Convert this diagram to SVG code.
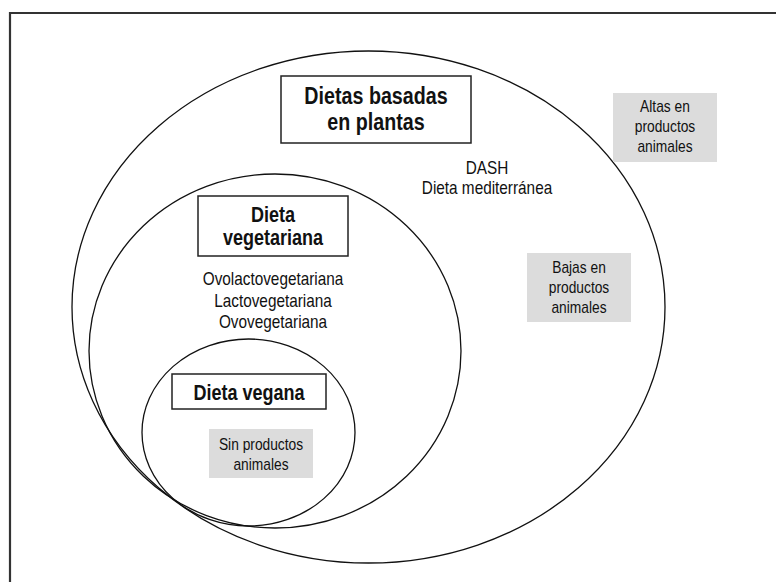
<svg xmlns="http://www.w3.org/2000/svg" width="776" height="582" viewBox="0 0 776 582">
<style>
  .ring{fill:none;stroke:#111;stroke-width:1.3}
  .box{fill:#fff;stroke:#222;stroke-width:1.5}
  .gbox{fill:#dcdcdc;stroke:none}
  text{font-family:'Liberation Sans',Arial,sans-serif;fill:#111;text-anchor:middle}
  .b{font-weight:bold}
  .r{font-size:18.7px}
  .g{font-size:16.8px}
</style>
<rect width="776" height="582" fill="#fff"/>
<path d="M10,582 L10,13 L776,13" fill="none" stroke="#333" stroke-width="2.2"/>
<g id="connectors"></g>
<g id="plantas">
  <ellipse class="ring" cx="368.5" cy="307" rx="296.5" ry="256"/>
  <rect class="box" x="281" y="76" width="190" height="67"/>
  <g transform="translate(376,0) scale(0.82,1)">
    <text class="b" x="0" y="104" font-size="24">Dietas basadas</text>
    <text class="b" x="0" y="130" font-size="24">en plantas</text>
  </g>
  <g transform="translate(487,0) scale(0.82,1)">
    <text class="r" x="0" y="174">DASH</text>
    <text class="r" x="0" y="194">Dieta mediterránea</text>
  </g>
</g>
<g id="altas">
  <rect class="gbox" x="613" y="93" width="104" height="69"/>
  <g transform="translate(665,0) scale(0.82,1)">
    <text class="g" x="0" y="112">Altas en</text>
    <text class="g" x="0" y="132">productos</text>
    <text class="g" x="0" y="152">animales</text>
  </g>
</g>
<g id="bajas">
  <rect class="gbox" x="527" y="253" width="104" height="69"/>
  <g transform="translate(579,0) scale(0.82,1)">
    <text class="g" x="0" y="273">Bajas en</text>
    <text class="g" x="0" y="293">productos</text>
    <text class="g" x="0" y="313">animales</text>
  </g>
</g>
<g id="vegetariana">
  <ellipse class="ring" cx="275" cy="351" rx="186" ry="177"/>
  <rect class="box" x="198" y="196" width="150" height="60"/>
  <g transform="translate(273,0) scale(0.82,1)">
    <text class="b" x="0" y="222" font-size="22">Dieta</text>
    <text class="b" x="0" y="245" font-size="22">vegetariana</text>
    <text class="r" x="0" y="285">Ovolactovegetariana</text>
    <text class="r" x="0" y="307">Lactovegetariana</text>
    <text class="r" x="0" y="328">Ovovegetariana</text>
  </g>
</g>
<g id="vegana">
  <ellipse class="ring" cx="248.5" cy="432.5" rx="106.5" ry="93.5"/>
  <rect class="box" x="172" y="374" width="154" height="35"/>
  <g transform="translate(249,0) scale(0.82,1)">
    <text class="b" x="0" y="400" font-size="22">Dieta vegana</text>
  </g>
</g>
<g id="sin">
  <rect class="gbox" x="209" y="429" width="104" height="49"/>
  <g transform="translate(261,0) scale(0.82,1)">
    <text class="g" x="0" y="450">Sin productos</text>
    <text class="g" x="0" y="470">animales</text>
  </g>
</g>
</svg>
